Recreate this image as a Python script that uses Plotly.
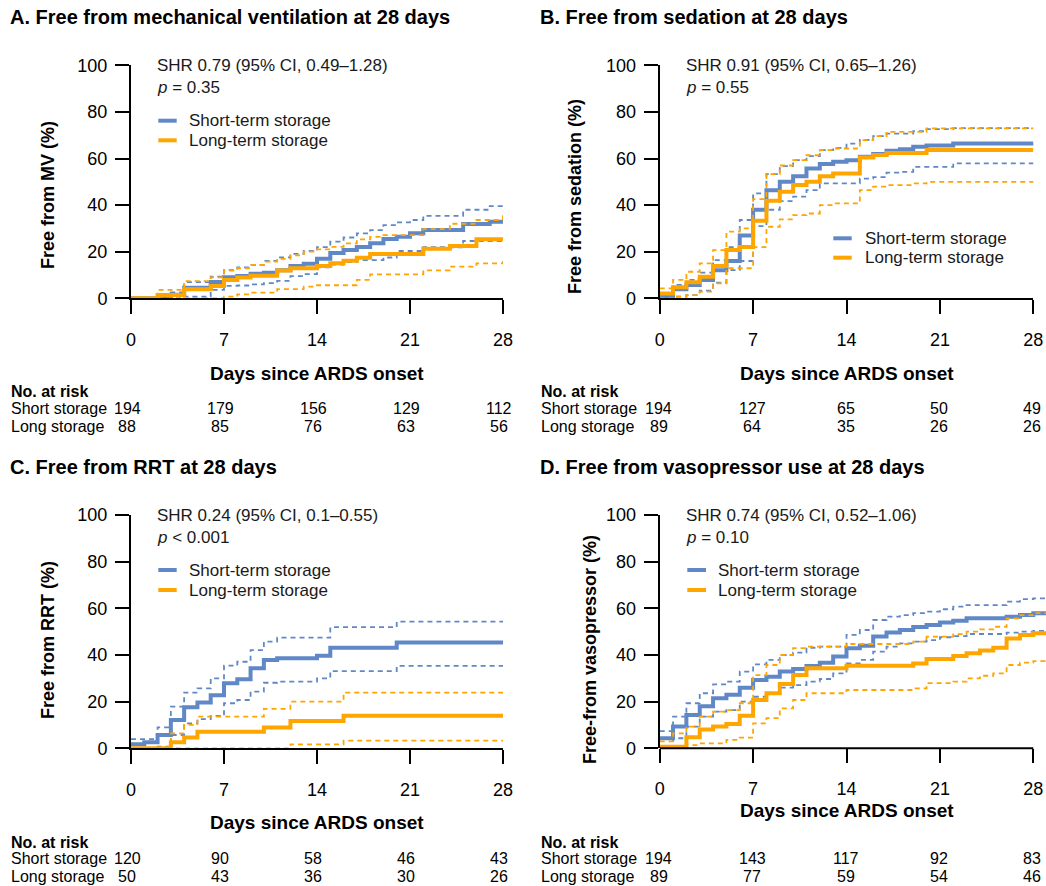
import plotly.graph_objects as go

# ---------------- data ----------------
DAYS = list(range(29))          # 0..28
DAYS_D = list(range(30))        # panel D curves run slightly past day 28
XTICKS = [0, 7, 14, 21, 28]
YTICKS = [0, 20, 40, 60, 80, 100]

# Panel A: free from mechanical ventilation
a_short_est = [0, 0, 0, 1.5, 4.5, 4.5, 7, 9, 9.6, 10.5, 11, 12, 13.9, 14.8, 17, 19.4, 20.7, 22, 23.6, 25.4, 26.4, 27.9, 29.3, 29.3, 29.3, 31.9, 31.9, 32.9, 33.6]
a_short_hi = [0, 0, 0, 2.5, 6.9, 6.9, 9.3, 12.1, 13.3, 14.3, 16.1, 17.6, 19.1, 20.3, 22, 24.3, 26.1, 27.9, 29.3, 31.4, 32.6, 33.6, 35.4, 35.4, 35.4, 38, 38, 39.6, 39.6]
a_short_lo = [0, 0, 0, 0, 0.7, 0.7, 3.6, 5.3, 5.5, 6, 6.5, 7.5, 9.5, 10.4, 13.3, 14.5, 15.5, 16.4, 16.4, 17.5, 20.3, 20.3, 21.9, 21.9, 21.9, 24.6, 24.6, 24.6, 25.5]
a_long_est = [0, 0, 1.4, 1.4, 3.9, 3.9, 5.3, 7.9, 8.9, 9.7, 9.7, 11.9, 12.9, 12.9, 13.9, 15, 16.1, 17.4, 19, 19, 19, 19, 21.3, 21.3, 22.4, 22.4, 25.3, 25.3, 26]
a_long_hi = [0, 0, 3.6, 3.6, 7.4, 7.4, 9, 11.9, 12.9, 14.3, 15.7, 16.9, 18.4, 20, 21, 22.1, 23.6, 25.3, 26.4, 27.1, 27.1, 27.1, 29.7, 29.7, 32, 32, 33.6, 33.6, 35.7]
a_long_lo = [0, 0, 0, 0, 0, 0, 0, 0.7, 1.7, 2.4, 2.4, 3.9, 3.9, 5, 5.6, 5.6, 5.6, 7.9, 10.3, 10.3, 10.3, 10.3, 12, 12, 13.6, 13.6, 15, 15, 16]

# Panel B: free from sedation
b_short_est = [0.7, 3.9, 5.7, 7.9, 12, 16, 26.9, 38, 46.4, 50, 52.4, 55.7, 57.6, 58.6, 59.3, 60.7, 61.9, 63.3, 64, 65, 65.6, 65.6, 66.4, 66.4, 66.4, 66.4, 66.4, 66.4, 66.9]
b_short_hi = [1.4, 5.7, 7.9, 11, 16.4, 22, 33.6, 45, 53.3, 56.7, 59.3, 61, 63.6, 64.6, 66.4, 68, 69.6, 70.7, 70.7, 71.7, 72.6, 72.6, 73, 73, 73, 73, 73, 73, 73]
b_short_lo = [0, 0.7, 1.4, 3.3, 6.7, 12.1, 16, 31, 38, 41.7, 43.6, 46.4, 49.3, 49.3, 49.3, 51.4, 52, 53.9, 54.3, 56.4, 56.4, 56.4, 57.9, 57.9, 57.9, 57.9, 57.9, 57.9, 58.6]
b_long_est = [2.1, 4.7, 6.9, 9.3, 13.9, 20.7, 22, 33.3, 41.9, 45.7, 48.6, 50, 52.4, 53.6, 53.6, 60.4, 61.5, 62.4, 62.4, 62.4, 63.6, 63.6, 63.6, 63.6, 63.6, 63.6, 63.6, 63.6, 63.6]
b_long_hi = [4.3, 7.9, 11.4, 15, 20.7, 28.6, 30, 42.6, 53.3, 57, 59.3, 61.4, 63.6, 64.3, 64.3, 67.9, 69.6, 71.4, 71.4, 71.4, 72.9, 72.9, 72.9, 72.9, 72.9, 72.9, 72.9, 72.9, 72.9]
b_long_lo = [0, 0.7, 1.4, 2.9, 6.4, 12.9, 12.9, 22, 30.7, 33.9, 35.7, 36.4, 40, 40.7, 40.7, 46.4, 47.9, 48.6, 48.6, 49.3, 50, 50, 50, 50, 50, 50, 50, 50, 50.7]

# Panel C: free from RRT
c_short_est = [1.7, 2.6, 5.7, 12.1, 17.6, 19.6, 22.7, 27.9, 29.6, 34.3, 37.9, 38.6, 38.6, 38.6, 39.7, 43.1, 43.1, 43.1, 43.1, 43.1, 45.3, 45.3, 45.3, 45.3, 45.3, 45.3, 45.3, 45.3, 45.3]
c_short_hi = [3.9, 3.9, 9, 17.9, 23.9, 25.7, 30, 35.4, 37.1, 42.1, 45.7, 47.4, 47.4, 47.4, 47.4, 51.9, 51.9, 51.9, 51.9, 51.9, 54.3, 54.3, 54.3, 54.3, 54.3, 54.3, 54.3, 54.3, 54.3]
c_short_lo = [0, 0, 0.7, 5.7, 10.7, 12.5, 13.9, 19.3, 20.7, 24.3, 28.1, 28.6, 28.6, 28.6, 30, 33.1, 33.1, 33.1, 33.1, 33.1, 35.3, 35.3, 35.3, 35.3, 35.3, 35.3, 35.3, 35.3, 35.3]
c_long_est = [0, 0, 0, 2.6, 4.6, 7.1, 7.1, 7.1, 7.1, 7.1, 8.9, 8.9, 11.7, 11.7, 11.7, 11.7, 14, 14, 14, 14, 14, 14, 14, 14, 14, 14, 14, 14, 14]
c_long_hi = [0, 0, 0, 6.4, 10, 13.6, 13.6, 13.6, 13.6, 13.6, 16.9, 16.9, 20, 20, 20, 20, 23.9, 23.9, 23.9, 23.9, 23.9, 23.9, 23.9, 23.9, 23.9, 23.9, 23.9, 23.9, 23.9]
c_long_lo = [0, 0, 0, 0, 0, 0, 0, 0, 0, 0, 0, 0, 1.7, 1.7, 1.7, 1.7, 3.3, 3.3, 3.3, 3.3, 3.3, 3.3, 3.3, 3.3, 3.3, 3.3, 3.3, 3.3, 3.3]

# Panel D: free from vasopressor use
d_short_est = [4.3, 9.3, 14.3, 18, 21.4, 22.9, 26, 29.3, 30.7, 32.9, 34, 35.3, 36.7, 39.3, 42.9, 44, 47.9, 49.6, 50.7, 52, 52.9, 53.9, 54.7, 55.7, 55.7, 55.7, 56.4, 57.1, 57.9, 57.9]
d_short_hi = [7.4, 13.6, 19.3, 23.6, 27.4, 28.6, 32.9, 36, 37.9, 40, 41, 43.1, 43.6, 43.6, 48.6, 50.7, 55, 56.4, 57.1, 57.9, 58.6, 59.6, 60.7, 61.4, 61.4, 61.4, 62.9, 63.9, 64.3, 64.3]
d_short_lo = [0.7, 4.3, 9.3, 13.6, 15.7, 16.4, 20, 22.1, 23.6, 26, 27.1, 28.6, 29.7, 32.1, 36.4, 37.9, 41.4, 43.6, 45, 45.7, 46.4, 47.6, 48.1, 49, 49, 49, 49.6, 50, 50.3, 50.3]
d_long_est = [0.7, 0.7, 4.7, 8.1, 9.3, 10.4, 13.9, 20.7, 23.6, 27.6, 31.4, 34.3, 34.3, 34.3, 35.4, 35.4, 35.4, 35.4, 35.4, 36.4, 38.3, 38.3, 39.6, 40.7, 41.9, 43.1, 47.1, 48.6, 49.3, 49.3]
d_long_hi = [3, 6.4, 9.3, 13.6, 15.7, 16.4, 19.3, 31.4, 35.7, 40, 42.9, 43.6, 43.6, 43.6, 44.7, 44.7, 44.7, 44.7, 44.7, 45.7, 47.9, 47.9, 48.9, 50, 51, 52.1, 55.7, 57.1, 57.9, 57.9]
d_long_lo = [0, 0, 1.4, 2.1, 2.1, 3.6, 4.6, 10.7, 12.9, 17.1, 20.7, 23.6, 23.6, 23.6, 25, 25, 25, 25, 25, 25.7, 27.9, 27.9, 28.6, 30, 31.1, 32.1, 35.7, 36.7, 37.4, 37.4]

# Numbers at risk (at days 0, 7, 14, 21, 28)
a_risk_short = [194, 179, 156, 129, 112]
a_risk_long = [88, 85, 76, 63, 56]
b_risk_short = [194, 127, 65, 50, 49]
b_risk_long = [89, 64, 35, 26, 26]
c_risk_short = [120, 90, 58, 46, 43]
c_risk_long = [50, 43, 36, 30, 26]
d_risk_short = [194, 143, 117, 92, 83]
d_risk_long = [89, 77, 59, 54, 46]

titles = ["A. Free from mechanical ventilation at 28 days",
          "B. Free from sedation at 28 days",
          "C. Free from RRT at 28 days",
          "D. Free from vasopressor use at 28 days"]
ytitles = ["Free from MV (%)", "Free from sedation (%)", "Free from RRT (%)", "Free-from vasopressor (%)"]
shr_texts = ["SHR 0.79 (95% CI, 0.49\u20131.28)", "SHR 0.91 (95% CI, 0.65\u20131.26)",
             "SHR 0.24 (95% CI, 0.1\u20130.55)", "SHR 0.74 (95% CI, 0.52\u20131.06)"]
p_texts = ["<i>p</i> = 0.35", "<i>p</i> = 0.55", "<i>p</i> &lt; 0.001", "<i>p</i> = 0.10"]
legend_names = ["Short-term storage", "Long-term storage"]
risk_labels = ["Short storage", "Long storage"]
XTITLE = "Days since ARDS onset"

# ---------------- style / layout ----------------
W, H = 1046, 886
FONT = "Liberation Sans, Arial, Helvetica, sans-serif"
BLUE = "#6088c6"
ORANGE = "#ffa500"
LSHIFT = -3   # compensates the annotation box padding for left-aligned texts


def px(x):
    return x / W


def py(y):
    return 1 - y / H


panels = [
    dict(days=DAYS, xl=131, xrpx=503, ytop=65.3, ybot=298.3,
         curves=[(a_short_est, a_short_hi, a_short_lo), (a_long_est, a_long_hi, a_long_lo)],
         risk=[a_risk_short, a_risk_long], title_xy=(11, 17), ytitle_xy=(48, 195),
         shr_x=157.7, leg=(158.3, 176.7, 190, 120.7, 140.3), xt_y=373.3,
         risk_x=12, risk_y=(391.7, 408.3, 426.7), rshift=-4, extend=False),
    dict(days=DAYS, xl=659.7, xrpx=1033.3, ytop=65.3, ybot=298.3,
         curves=[(b_short_est, b_short_hi, b_short_lo), (b_long_est, b_long_hi, b_long_lo)],
         risk=[b_risk_short, b_risk_long], title_xy=(541, 17), ytitle_xy=(575, 197),
         shr_x=687.3, leg=(833.3, 851.7, 865.7, 238.3, 257.7), xt_y=373.3,
         risk_x=541.7, risk_y=(391.7, 408.3, 426.7), rshift=-1, extend=False),
    dict(days=DAYS, xl=131, xrpx=503, ytop=515, ybot=748.3,
         curves=[(c_short_est, c_short_hi, c_short_lo), (c_long_est, c_long_hi, c_long_lo)],
         risk=[c_risk_short, c_risk_long], title_xy=(11, 466.5), ytitle_xy=(48, 640),
         shr_x=157.7, leg=(158.3, 176.7, 190, 570, 590), xt_y=822,
         risk_x=12, risk_y=(842.3, 858.3, 876.7), rshift=-4, extend=False),
    dict(days=DAYS_D, xl=659.7, xrpx=1033.3, ytop=515, ybot=748.3,
         curves=[(d_short_est, d_short_hi, d_short_lo), (d_long_est, d_long_hi, d_long_lo)],
         risk=[d_risk_short, d_risk_long], title_xy=(541, 466.5), ytitle_xy=(590, 650),
         shr_x=687.3, leg=(687.3, 706, 719.3, 570, 590), xt_y=810,
         risk_x=541.7, risk_y=(842.3, 858.3, 876.7), rshift=-1, extend=True),
]

fig = go.Figure()
annotations = []
shapes = []
layout_axes = {}


def left_text(text, x, y, size, color="black"):
    return dict(text=text, x=px(x), y=py(y), xref="paper", yref="paper",
                xanchor="left", yanchor="middle", xshift=LSHIFT, showarrow=False,
                font=dict(family=FONT, size=size, color=color))


for i, p in enumerate(panels):
    n = i + 1
    xa = "x" if n == 1 else f"x{n}"
    ya = "y" if n == 1 else f"y{n}"
    xkey = "xaxis" if n == 1 else f"xaxis{n}"
    ykey = "yaxis" if n == 1 else f"yaxis{n}"
    ppd = (p["xrpx"] - p["xl"]) / 28.0
    if p["extend"]:
        xright = W
        xmax = (xright - p["xl"]) / ppd
    else:
        xright = p["xrpx"]
        xmax = 28

    for color, (est, hi, lo) in zip([BLUE, ORANGE], p["curves"]):
        for vals, width, dash in [(est, 4, "solid"), (hi, 1.8, "5px,4px"), (lo, 1.8, "5px,4px")]:
            fig.add_trace(go.Scatter(
                x=p["days"], y=vals, mode="lines", xaxis=xa, yaxis=ya,
                line=dict(color=color, width=width, dash=dash, shape="hv"),
                showlegend=False, hoverinfo="skip"))

    layout_axes[xkey] = dict(
        domain=[px(p["xl"]), min(1.0, px(xright))], range=[0, xmax], anchor=ya,
        tickmode="array", tickvals=XTICKS, ticktext=[str(t) for t in XTICKS],
        ticks="outside", ticklen=14, tickwidth=2, tickcolor="black",
        showline=not p["extend"], linewidth=2, linecolor="black", mirror=False,
        showgrid=False, zeroline=False, ticklabelstandoff=10, automargin=False,
        tickfont=dict(family=FONT, size=18, color="black"), fixedrange=True)
    layout_axes[ykey] = dict(
        domain=[py(p["ybot"]), py(p["ytop"])], range=[0, 100], anchor=xa,
        tickmode="array", tickvals=YTICKS, ticktext=[str(t) for t in YTICKS],
        ticks="outside", ticklen=14, tickwidth=2, tickcolor="black",
        showline=True, linewidth=2, linecolor="black",
        showgrid=False, zeroline=False, ticklabelstandoff=4, automargin=False,
        tickfont=dict(family=FONT, size=18, color="black"), fixedrange=True)
    if p["extend"]:
        # x-axis line only spans 0..28 while the curves continue to the edge
        shapes.append(dict(type="line", xref=xa, yref="paper", x0=0, x1=28,
                           y0=py(p["ybot"]), y1=py(p["ybot"]),
                           line=dict(color="black", width=2), layer="above"))

    annotations.append(left_text(f"<b>{titles[i]}</b>", p["title_xy"][0], p["title_xy"][1], 20))
    annotations.append(dict(text=f"<b>{ytitles[i]}</b>", x=px(p["ytitle_xy"][0]),
                            y=py(p["ytitle_xy"][1]), xref="paper", yref="paper",
                            xanchor="center", yanchor="middle", textangle=-90, showarrow=False,
                            font=dict(family=FONT, size=18, color="black")))
    annotations.append(dict(text=f"<b>{XTITLE}</b>", x=px((p["xl"] + p["xrpx"]) / 2), y=py(p["xt_y"]),
                            xref="paper", yref="paper", xanchor="center", yanchor="middle",
                            showarrow=False, font=dict(family=FONT, size=19, color="black")))
    annotations.append(left_text(shr_texts[i], p["shr_x"], p["ytop"], 17, "#1a1a1a"))
    annotations.append(left_text(p_texts[i], p["shr_x"], p["ytop"] + 22.7, 17, "#1a1a1a"))
    lx0, lx1, ltx, ly1, ly2 = p["leg"]
    for color, name, ly in zip([BLUE, ORANGE], legend_names, [ly1, ly2]):
        shapes.append(dict(type="line", xref="paper", yref="paper", x0=px(lx0), x1=px(lx1),
                           y0=py(ly), y1=py(ly), line=dict(color=color, width=4)))
        annotations.append(left_text(name, ltx, ly, 17, "#1a1a1a"))
    ry0, ry1, ry2 = p["risk_y"]
    annotations.append(left_text("<b>No. at risk</b>", p["risk_x"], ry0, 16))
    for lab, row, ry in zip(risk_labels, p["risk"], [ry1, ry2]):
        annotations.append(left_text(lab, p["risk_x"], ry, 16))
        for t, v in zip(XTICKS, row):
            annotations.append(dict(text=str(v), x=t, y=py(ry), xref=xa, yref="paper",
                                    xanchor="center", yanchor="middle", xshift=p["rshift"],
                                    showarrow=False, font=dict(family=FONT, size=16, color="black")))

fig.update_layout(
    width=W, height=H, autosize=False,
    margin=dict(l=0, r=0, t=0, b=0, pad=0, autoexpand=False),
    paper_bgcolor="white", plot_bgcolor="white",
    font=dict(family=FONT, color="black"),
    showlegend=False,
    annotations=annotations, shapes=shapes,
    **layout_axes)

fig.write_html("out.html", config={"displayModeBar": False},
               post_script="document.body.style.margin='0';document.body.style.overflow='hidden';")
